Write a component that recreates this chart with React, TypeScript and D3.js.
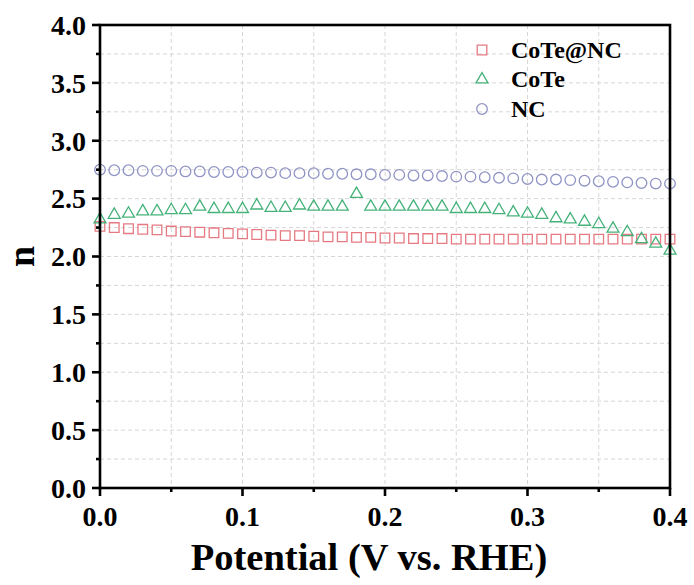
import React from "react";
import * as d3 from "d3";

const potentials: number[] = [
  0.0, 0.01, 0.02, 0.03, 0.04, 0.05, 0.06, 0.07, 0.08, 0.09, 0.1,
  0.11, 0.12, 0.13, 0.14, 0.15, 0.16, 0.17, 0.18, 0.19, 0.2,
  0.21, 0.22, 0.23, 0.24, 0.25, 0.26, 0.27, 0.28, 0.29, 0.3,
  0.31, 0.32, 0.33, 0.34, 0.35, 0.36, 0.37, 0.38, 0.39, 0.4,
];

const coteNC: number[] = [
  2.26, 2.25, 2.24, 2.235, 2.23, 2.22, 2.215, 2.21, 2.205, 2.2, 2.195,
  2.19, 2.185, 2.18, 2.18, 2.175, 2.17, 2.17, 2.165, 2.165, 2.16,
  2.16, 2.155, 2.155, 2.155, 2.15, 2.15, 2.15, 2.15, 2.15, 2.15,
  2.15, 2.15, 2.15, 2.15, 2.15, 2.15, 2.15, 2.15, 2.15, 2.15,
];

const cote: number[] = [
  2.32, 2.36, 2.37, 2.39, 2.39, 2.4, 2.4, 2.43, 2.41, 2.41, 2.41,
  2.44, 2.42, 2.42, 2.44, 2.43, 2.43, 2.43, 2.54, 2.43, 2.43,
  2.43, 2.43, 2.43, 2.43, 2.41, 2.41, 2.41, 2.4, 2.38, 2.37,
  2.36, 2.33, 2.32, 2.3, 2.28, 2.24, 2.21, 2.15, 2.11, 2.05,
];

const nc: number[] = [
  2.75, 2.745, 2.745, 2.74, 2.74, 2.74, 2.735, 2.735, 2.73, 2.73, 2.73,
  2.725, 2.725, 2.72, 2.72, 2.72, 2.715, 2.715, 2.71, 2.71, 2.705,
  2.705, 2.7, 2.7, 2.695, 2.69, 2.69, 2.685, 2.68, 2.675, 2.67,
  2.665, 2.665, 2.66, 2.655, 2.65, 2.645, 2.64, 2.635, 2.63, 2.63,
];

const seriesNames: string[] = ["CoTe@NC", "CoTe", "NC"];
const xTicks: number[] = [0, 0.1, 0.2, 0.3, 0.4];
const xMinorTicks: number[] = [0.05, 0.15, 0.25, 0.35];
const yTicks: number[] = [0, 0.5, 1.0, 1.5, 2.0, 2.5, 3.0, 3.5, 4.0];
const yMinorTicks: number[] = [0.25, 0.75, 1.25, 1.75, 2.25, 2.75, 3.25, 3.75];

const W = 694;
const H = 585;
const L = 100;
const R = 670;
const T = 25;
const B = 488;

const FONT = "'Liberation Serif', 'Times New Roman', serif";
const colors = ["#e57a82", "#45b27a", "#8f94c4"];

export default function App() {
  const x = d3.scaleLinear().domain([0, 0.4]).range([L, R]);
  const y = d3.scaleLinear().domain([0, 4]).range([B, T]);

  const sq = d3.symbol().type(d3.symbolSquare).size(92)()!;
  const tri = d3.symbol().type(d3.symbolTriangle).size(62)()!;
  const circ = d3.symbol().type(d3.symbolCircle).size(88)()!;
  const shapes = [sq, tri, circ];
  const data = [coteNC, cote, nc];

  const grid = "#d6d6d6";

  return (
    <svg
      width={W}
      height={H}
      style={{ position: "absolute", left: 0, top: 0, background: "#fff" }}
      fontFamily={FONT}
    >
      <rect x={0} y={0} width={W} height={H} fill="#fff" />
      {/* grid */}
      {[...xTicks.slice(1, -1), ...xMinorTicks].map((t, i) => (
        <line
          key={"gx" + i}
          x1={x(t)}
          x2={x(t)}
          y1={T}
          y2={B}
          stroke={grid}
          strokeWidth={1}
          strokeDasharray="4,3"
        />
      ))}
      {[...yTicks.slice(1, -1), ...yMinorTicks].map((t, i) => (
        <line
          key={"gy" + i}
          x1={L}
          x2={R}
          y1={y(t)}
          y2={y(t)}
          stroke={grid}
          strokeWidth={1}
          strokeDasharray="4,3"
        />
      ))}

      {/* data */}
      {data.map((vals, si) => (
        <g key={"s" + si}>
          {vals.map((v, i) => (
            <path
              key={i}
              d={shapes[si]}
              transform={`translate(${x(potentials[i])},${y(v)})`}
              fill="none"
              stroke={colors[si]}
              strokeWidth={1.3}
            />
          ))}
        </g>
      ))}

      {/* frame */}
      <rect
        x={L}
        y={T}
        width={R - L}
        height={B - T}
        fill="none"
        stroke="#000"
        strokeWidth={2.6}
      />

      {/* y ticks */}
      {yTicks.map((t, i) => (
        <g key={"yt" + i}>
          <line x1={L - 8} x2={L} y1={y(t)} y2={y(t)} stroke="#000" strokeWidth={2.6} />
          <text
            x={L - 14}
            y={y(t)}
            dy="0.35em"
            textAnchor="end"
            fontSize={28}
            fontWeight="bold"
          >
            {t.toFixed(1)}
          </text>
        </g>
      ))}
      {yMinorTicks.map((t, i) => (
        <line key={"ym" + i} x1={L - 4} x2={L} y1={y(t)} y2={y(t)} stroke="#000" strokeWidth={2.6} />
      ))}

      {/* x ticks */}
      {xTicks.map((t, i) => (
        <g key={"xt" + i}>
          <line x1={x(t)} x2={x(t)} y1={B} y2={B + 8} stroke="#000" strokeWidth={2.6} />
          <text
            x={x(t)}
            y={B + 38}
            textAnchor="middle"
            fontSize={28}
            fontWeight="bold"
          >
            {t.toFixed(1)}
          </text>
        </g>
      ))}
      {xMinorTicks.map((t, i) => (
        <line key={"xm" + i} x1={x(t)} x2={x(t)} y1={B} y2={B + 4} stroke="#000" strokeWidth={2.6} />
      ))}

      {/* axis titles */}
      <text
        x={369}
        y={570}
        textAnchor="middle"
        fontSize={38.5}
        fontWeight="bold"
      >
        Potential (V vs. RHE)
      </text>
      <text
        transform={`translate(34,${(T + B) / 2}) rotate(-90)`}
        textAnchor="middle"
        fontSize={38}
        fontWeight="bold"
      >
        n
      </text>

      {/* legend */}
      {seriesNames.map((name, i) => (
        <g key={"lg" + i}>
          <path
            d={shapes[i]}
            transform={`translate(482,${50 + i * 29.5})`}
            fill="none"
            stroke={colors[i]}
            strokeWidth={1.3}
          />
          <text x={511} y={57.5 + i * 29.5} fontSize={24} fontWeight="bold">
            {name}
          </text>
        </g>
      ))}
    </svg>
  );
}
